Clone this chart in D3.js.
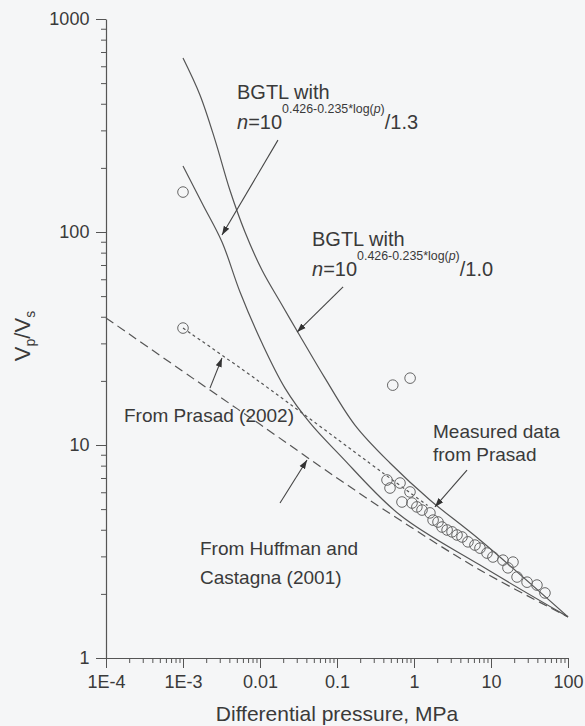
<!DOCTYPE html>
<html>
<head>
<meta charset="utf-8">
<script src="https://cdn.jsdelivr.net/npm/d3@7"></script>
<style>
  html, body { margin: 0; padding: 0; background: #f5f6f7; }
  svg { display: block; }
  text { font-family: "Liberation Sans", Arial, sans-serif; fill: #3a3a3a; }
</style>
</head>
<body>
<svg id="chart" width="585" height="726"></svg>
<script>
// ---------- data ----------
const xTickValues = [1e-4, 1e-3, 0.01, 0.1, 1, 10, 100];
const xTickLabels = ["1E-4", "1E-3", "0.01", "0.1", "1", "10", "100"];
const yTickValues = [1, 10, 100, 1000];
const yTickLabels = ["1", "10", "100", "1000"];

// BGTL with n/1.0 (upper solid curve)
const bgtl10P = [0.001, 0.00166, 0.00261, 0.00407, 0.00638, 0.0106, 0.0193, 0.0331, 0.0698, 0.171, 0.488, 1.61, 7.19, 100];
const bgtl10V = [656, 440, 270, 157, 100, 66.3, 45.4, 32.5, 20.6, 12.4, 8.23, 5.52, 3.58, 1.56];

// BGTL with n/1.3 (lower solid curve)
const bgtl13P = [0.001, 0.00182, 0.00321, 0.0055, 0.0106, 0.0211, 0.0446, 0.109, 0.658, 7.19, 100];
const bgtl13V = [204, 134, 89.8, 52.3, 30.1, 18.5, 12.7, 8.97, 4.69, 2.73, 1.56];

// From Huffman and Castagna (2001), dashed
const huffP = [1e-4, 0.00224, 0.01, 0.1, 0.658, 7.19, 100];
const huffV = [39.5, 18.1, 12.5, 7.0, 4.44, 2.59, 1.56];

// From Prasad (2002), dotted
const prasadP = [0.001, 0.00914, 0.395, 1.5];
const prasadV = [35.4, 20.2, 7.39, 5.2];

// Measured data from Prasad (open circles)
const measP = [0.001, 0.001, 0.53, 0.89, 0.446, 0.488, 0.658, 0.887, 0.698, 0.942, 1.09, 1.27, 1.61, 1.77, 2.05,
               2.31, 2.69, 3.12, 3.62, 4.20, 5.02, 6.19, 7.19, 8.87, 10.6, 14.3, 19.3, 16.6, 21.8, 29.4, 39.5, 50.2];
const measV = [154, 35.4, 19.1, 20.6, 6.85, 6.28, 6.63, 6.02, 5.40, 5.34, 5.12, 4.95, 4.80, 4.44, 4.35,
               4.12, 3.99, 3.91, 3.78, 3.70, 3.51, 3.39, 3.28, 3.11, 2.98, 2.88, 2.82, 2.65, 2.40, 2.27, 2.20, 2.02];

// annotation arrows: [fromP, fromV, toP, toV]
const arrowFromP = [0.0171, 0.120, 0.00224, 0.0182, 4.88];
const arrowFromV = [270, 55.2, 18.5, 5.34, 7.63];
const arrowToP   = [0.00321, 0.0303, 0.00321, 0.0408, 1.87];
const arrowToV   = [96.8, 33.9, 25.6, 8.50, 5.12];

// ---------- layout ----------
const svg = d3.select("#chart");
const x = d3.scaleLog().domain([1e-4, 100]).range([106, 568]);
const y = d3.scaleLog().domain([1, 1000]).range([658, 19]);
const ink = "#555";

const zip = (a, b) => a.map((v, i) => [v, b[i]]);

// minor tick values
const minorX = [];
for (let e = -4; e < 2; e++) for (let k = 2; k <= 9; k++) minorX.push(k * Math.pow(10, e));
const minorY = [];
for (let e = 0; e < 3; e++) for (let k = 2; k <= 9; k++) minorY.push(k * Math.pow(10, e));

// x axis
const gx = svg.append("g").attr("transform", `translate(0,${y(1)})`);
gx.call(d3.axisBottom(x).tickValues(xTickValues).tickFormat((d, i) => xTickLabels[i]).tickSize(10).tickSizeOuter(0));
gx.append("g").call(d3.axisBottom(x).tickValues(minorX).tickFormat("").tickSize(5).tickSizeOuter(0))
  .select(".domain").remove();
// y axis
const gy = svg.append("g").attr("transform", `translate(${x(1e-4)},0)`);
gy.call(d3.axisLeft(y).tickValues(yTickValues).tickFormat((d, i) => yTickLabels[i]).tickSize(10).tickSizeOuter(0));
gy.append("g").call(d3.axisLeft(y).tickValues(minorY).tickFormat("").tickSize(5).tickSizeOuter(0))
  .select(".domain").remove();

svg.selectAll(".domain").attr("stroke", ink).attr("stroke-width", 1.2);
svg.selectAll(".tick line").attr("stroke", ink).attr("stroke-width", 1);
gx.selectAll(".tick text").attr("font-size", 18).attr("dy", "0.95em").attr("fill", "#3a3a3a")
  .attr("font-family", "Liberation Sans, Arial, sans-serif");
gy.selectAll(".tick text").attr("font-size", 18).attr("dx", "-0.2em").attr("fill", "#3a3a3a")
  .attr("font-family", "Liberation Sans, Arial, sans-serif");

// axis titles
svg.append("text").attr("x", 337).attr("y", 721).attr("text-anchor", "middle")
  .attr("font-size", 21).text("Differential pressure, MPa");
const yl = svg.append("text").attr("transform", "translate(30,336) rotate(-90)")
  .attr("text-anchor", "middle").attr("font-size", 22);
yl.append("tspan").text("V");
yl.append("tspan").attr("font-size", 14).attr("dy", 5).text("p");
yl.append("tspan").attr("font-size", 22).attr("dy", -5).text("/V");
yl.append("tspan").attr("font-size", 14).attr("dy", 5).text("s");

// lines
const line = d3.line().x(d => x(d[0])).y(d => y(d[1])).curve(d3.curveCatmullRom.alpha(0.5));
function drawLine(P, V, dash) {
  svg.append("path").datum(zip(P, V)).attr("d", line)
    .attr("fill", "none").attr("stroke", ink).attr("stroke-width", 1.2)
    .attr("stroke-dasharray", dash);
}
drawLine(bgtl10P, bgtl10V, null);
drawLine(bgtl13P, bgtl13V, null);
drawLine(huffP, huffV, "9,5");
drawLine(prasadP, prasadV, "3,3");

// circles
svg.append("g").selectAll("circle").data(zip(measP, measV)).join("circle")
  .attr("cx", d => x(d[0])).attr("cy", d => y(d[1])).attr("r", 5.3)
  .attr("fill", "none").attr("stroke", "#666").attr("stroke-width", 1);

// arrows
const defs = svg.append("defs");
defs.append("marker").attr("id", "ah").attr("viewBox", "0 0 10 10").attr("refX", 10).attr("refY", 5)
  .attr("markerWidth", 9).attr("markerHeight", 9).attr("markerUnits", "userSpaceOnUse").attr("orient", "auto")
  .append("path").attr("d", "M0,1.5 L10,5 L0,8.5 Z").attr("fill", "#333");
arrowFromP.forEach((p, i) => {
  svg.append("line").attr("x1", x(p)).attr("y1", y(arrowFromV[i]))
    .attr("x2", x(arrowToP[i])).attr("y2", y(arrowToV[i]))
    .attr("stroke", "#444").attr("stroke-width", 1.1).attr("marker-end", "url(#ah)");
});

// annotation text
function bgtl(xp, yp, divisor) {
  svg.append("text").attr("x", xp).attr("y", yp - 1).attr("font-size", 20).text("BGTL with");
  const t = svg.append("text").attr("x", xp).attr("y", yp + 29).attr("font-size", 20);
  t.append("tspan").attr("font-style", "italic").text("n");
  t.append("tspan").text("=10");
  t.append("tspan").attr("font-size", 12.4).attr("dy", -16.5).text("0.426-0.235*log(");
  t.append("tspan").attr("font-size", 12.4).attr("font-style", "italic").text("p");
  t.append("tspan").attr("font-size", 12.4).text(")");
  t.append("tspan").attr("font-size", 20).attr("dy", 16.5).text("/" + divisor);
}
bgtl(237, 100, "1.3");
bgtl(312, 247, "1.0");

function label(lines, xp, yp, lh) {
  lines.forEach((s, i) => svg.append("text").attr("x", xp).attr("y", yp + i * lh).attr("font-size", 19).text(s));
}
label(["From Prasad (2002)"], 124, 422, 0);
label(["From Huffman and", "Castagna (2001)"], 200, 555, 29);
label(["Measured data", "from Prasad"], 433, 438, 23);
</script>
</body>
</html>
